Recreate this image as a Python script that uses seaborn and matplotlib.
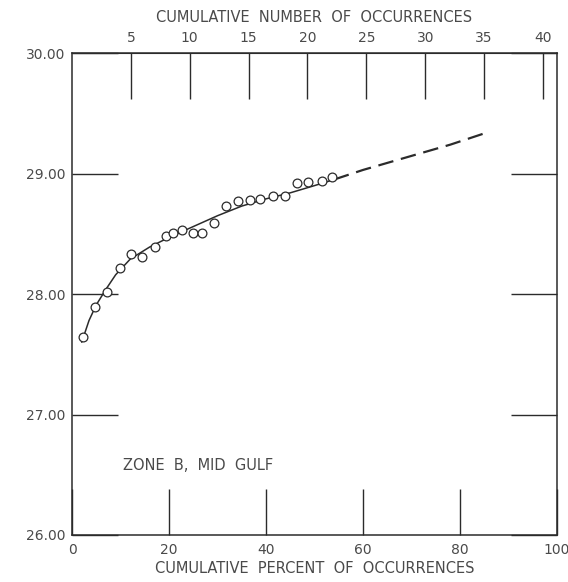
import numpy as np
import matplotlib
matplotlib.use("Agg")
import matplotlib.pyplot as plt
import seaborn as sns

# observed points (cumulative percent, value)
pct = [2.3, 4.7, 7.2, 9.9, 12.1, 14.4, 17.1, 19.4, 20.8, 22.6, 24.9, 26.7,
       29.3, 31.7, 34.2, 36.7, 38.8, 41.4, 43.9, 46.3, 48.7, 51.5, 53.6]
val = [27.64, 27.89, 28.02, 28.22, 28.33, 28.31, 28.39, 28.48, 28.51, 28.53,
       28.51, 28.51, 28.59, 28.73, 28.77, 28.78, 28.79, 28.81, 28.81, 28.92,
       28.93, 28.94, 28.97]

# fitted curve, solid part and dashed extension
fit_pct = [2.0, 3.5, 5.0, 7.0, 9.0, 12.0, 16.0, 20.0, 25.0, 30.0, 35.0,
           40.0, 45.0, 50.0, 54.0]
fit_val = [27.60, 27.78, 27.91, 28.04, 28.16, 28.29, 28.39, 28.47, 28.56,
           28.65, 28.73, 28.79, 28.84, 28.90, 28.95]
ext_pct = [54.0, 60.0, 66.0, 72.0, 78.0, 85.5]
ext_val = [28.95, 29.03, 29.10, 29.17, 29.24, 29.34]

x_ticks = [0, 20, 40, 60, 80, 100]
y_ticks = [26, 27, 28, 29, 30]
y_labels = ["26.00", "27.00", "28.00", "29.00", "30.00"]
top_ticks = [5, 10, 15, 20, 25, 30, 35, 40]
n_total = 41.2  # occurrences at 100 percent

sns.set_style("white")
plt.rcParams['font.family'] = ['DejaVu Sans']
ink = "#2b2b2b"
txt = "#4a4a4a"

fig = plt.figure(figsize=(5.68, 5.82), dpi=100)
ax = fig.add_axes([0.1268, 0.0808, 0.8539, 0.828])

sns.lineplot(x=fit_pct, y=fit_val, ax=ax, color=ink, linewidth=1.1, sort=False)
sns.lineplot(x=ext_pct, y=ext_val, ax=ax, color=ink, linewidth=1.6, sort=False,
             linestyle=(0, (7, 3.5)))
sns.scatterplot(x=pct, y=val, ax=ax, marker="o", s=40, facecolor="white",
                edgecolor=ink, linewidth=0.9, zorder=3)

ax.set_xlim(0, 100)
ax.set_ylim(26, 30)
ax.set_xticks(x_ticks)
ax.set_yticks(y_ticks)
ax.set_yticklabels(y_labels)

for s in ax.spines.values():
    s.set_color(ink)
    s.set_linewidth(1.1)

ax.tick_params(axis="x", direction="in", length=33, width=1, color=ink,
               labelsize=10, labelcolor=txt, pad=6, bottom=True)
ax.tick_params(axis="y", direction="in", length=33, width=1, color=ink,
               labelsize=10, labelcolor=txt, pad=5, left=True, right=True)

ax.set_xlabel("CUMULATIVE  PERCENT  OF  OCCURRENCES", fontsize=10.5,
              color=txt, labelpad=3)

top = ax.secondary_xaxis("top", functions=(lambda p: p * n_total / 100,
                                           lambda n: n * 100 / n_total))
top.set_xticks(top_ticks)
top.tick_params(direction="in", length=33, width=1, color=ink,
                labelsize=10, labelcolor=txt, pad=6, top=True)
top.spines["top"].set_color(ink)
top.set_xlabel("CUMULATIVE  NUMBER  OF  OCCURRENCES", fontsize=10.5,
               color=txt, labelpad=6)

ax.text(10.5, 26.58, "ZONE  B,  MID  GULF", fontsize=10.5, color=txt,
        va="center", ha="left")

fig.savefig("out.png", dpi=100)
